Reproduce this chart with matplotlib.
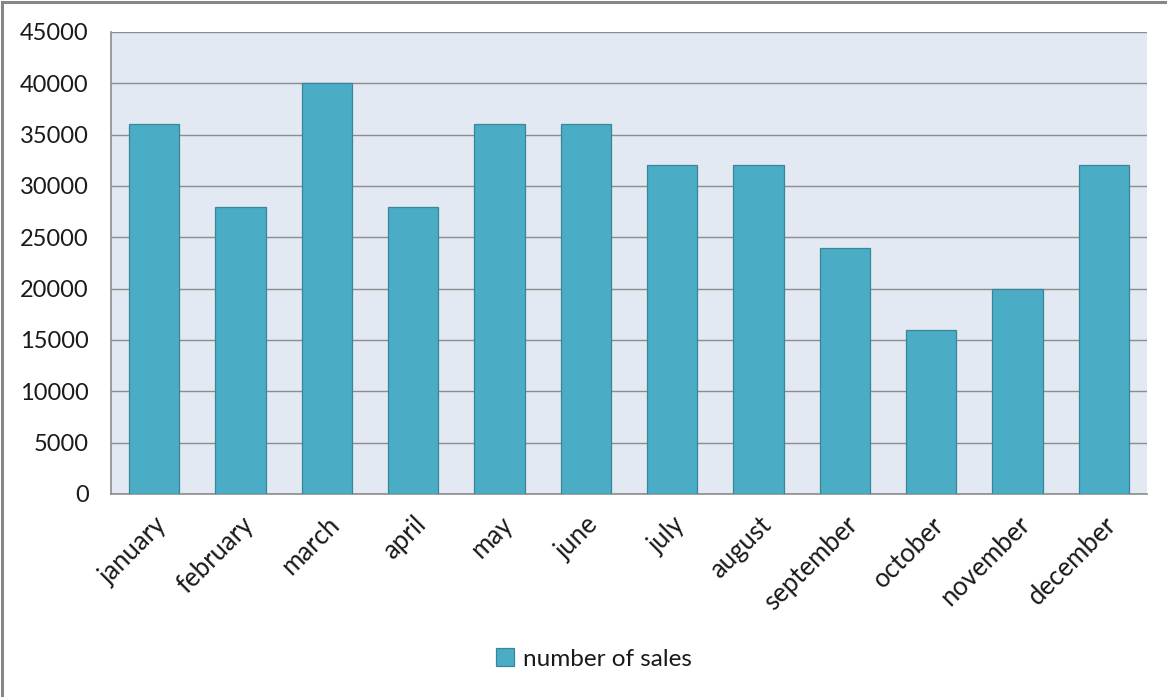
import matplotlib
matplotlib.use("Agg")
import matplotlib.pyplot as plt
from matplotlib.patches import Rectangle

months = ["january", "february", "march", "april", "may", "june", "july",
          "august", "september", "october", "november", "december"]
sales = [36000, 28000, 40000, 28000, 36000, 36000, 32000, 32000,
         24000, 16000, 20000, 32000]
y_ticks = list(range(0, 45001, 5000))

plt.rcParams["font.family"] = ["Lato", "DejaVu Sans"]

W, H = 1167, 697
fig = plt.figure(figsize=(W / 100, H / 100), dpi=100)
fig.patch.set_facecolor("white")

# outer chart frame
fig.add_artist(Rectangle((2 / W, -0.01), 1.2, 1 - 2 / H + 0.01,
                         transform=fig.transFigure, fill=False,
                         edgecolor="#868686", linewidth=2.2))

left, right, top, bottom = 111, 1147, 32, 494
ax = fig.add_axes([left / W, 1 - bottom / H, (right - left) / W, (bottom - top) / H])
ax.set_facecolor("#E2E9F3")

x = range(len(months))
ax.bar(x, sales, width=0.58, color="#4BACC6", edgecolor="#3A8597",
       linewidth=0.9, label="number of sales", zorder=3)

ax.set_xlim(-0.5, len(months) - 0.5)
ax.set_ylim(0, 45000)
ax.set_yticks(y_ticks)
ax.set_yticklabels([str(v) for v in y_ticks], fontsize=17, color="#1a1a1a")
ax.yaxis.grid(True, color="#8C8C8C", linewidth=1.0, zorder=0)
ax.set_axisbelow(True)

ax.set_xticks(list(x))
ax.set_xticklabels(months, rotation=45, ha="right", rotation_mode="anchor",
                   fontsize=18.5, color="#1a1a1a")
ax.tick_params(axis="both", length=0)
ax.tick_params(axis="x", pad=13)
ax.tick_params(axis="y", pad=16)

for side in ["top", "right"]:
    ax.spines[side].set_visible(False)
for side in ["left", "bottom"]:
    ax.spines[side].set_color("#8C8C8C")
    ax.spines[side].set_linewidth(1.2)

leg = fig.legend(loc="center", bbox_to_anchor=(594 / W, 1 - 659 / H),
                 frameon=False, fontsize=17.5, handlelength=0.75,
                 handleheight=0.75, handletextpad=0.35)
for t in leg.get_texts():
    t.set_color("#1a1a1a")

fig.savefig("out.png", dpi=100, facecolor="white")
